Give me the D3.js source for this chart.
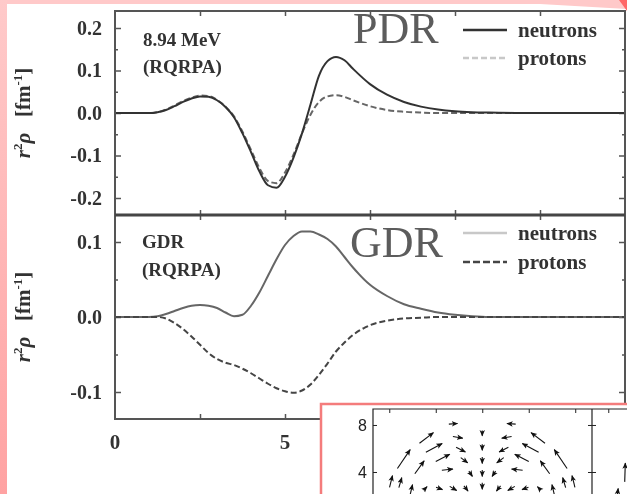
<!DOCTYPE html>
<html>
<head>
<meta charset="utf-8">
<script src="https://cdn.jsdelivr.net/npm/d3@7"></script>
<style>
  body { margin: 0; background: #fff; }
  svg { display: block; }
</style>
</head>
<body>
<svg width="627" height="494"></svg>
<script>
// radius grid shared by both panels (fm)
const radius = [0, 0.5, 1, 1.25, 1.5, 1.75, 2, 2.25, 2.5, 2.75, 3, 3.25, 3.5, 3.75, 4, 4.25, 4.5, 4.75,
  5, 5.25, 5.5, 5.75, 6, 6.25, 6.5, 6.75, 7, 7.5, 8, 8.5, 9, 9.5, 10, 10.5, 11, 12, 13, 14, 15];

// PDR, 8.94 MeV
const pdrNeutrons = [0, 0, 0, 0.002, 0.007, 0.016, 0.026, 0.034, 0.039, 0.038, 0.03, 0.014, -0.01, -0.048,
  -0.092, -0.138, -0.17, -0.176, -0.15, -0.105, -0.048, 0.02, 0.088, 0.122, 0.132, 0.124, 0.104, 0.068,
  0.043, 0.026, 0.015, 0.008, 0.004, 0.002, 0.001, 0, 0, 0, 0];
const pdrProtons = [0, 0, 0, 0.002, 0.008, 0.018, 0.028, 0.036, 0.041, 0.04, 0.031, 0.015, -0.008, -0.044,
  -0.087, -0.13, -0.16, -0.165, -0.14, -0.098, -0.048, -0.004, 0.026, 0.039, 0.042, 0.038, 0.03, 0.016,
  0.007, 0.003, 0.001, 0, 0, 0, 0, 0, 0, 0, 0];

// GDR
const gdrNeutrons = [0, 0, 0, 0.001, 0.004, 0.008, 0.012, 0.015, 0.016, 0.015, 0.012, 0.006, 0.001, 0.003,
  0.015, 0.033, 0.055, 0.077, 0.096, 0.108, 0.114, 0.114, 0.11, 0.104, 0.094, 0.08, 0.066, 0.043,
  0.028, 0.017, 0.011, 0.006, 0.003, 0.001, 0, 0, 0, 0, 0];
const gdrProtons = [0, 0, 0, 0, -0.002, -0.008, -0.016, -0.026, -0.037, -0.048, -0.056, -0.061, -0.064, -0.069,
  -0.075, -0.082, -0.089, -0.095, -0.099, -0.101, -0.098, -0.09, -0.077, -0.062, -0.046, -0.034, -0.024, -0.011,
  -0.005, -0.002, -0.001, 0, 0, 0, 0, 0, 0, 0, 0];

// ticks
const topTicks = [-0.2, -0.1, 0, 0.1, 0.2];
const topMinor = [-0.15, -0.05, 0.05, 0.15];
const botTicks = [-0.1, 0, 0.1];
const botMinor = [-0.05, 0.05];
const xTicks = [0, 5, 10];
const xTicksAll = [2.5, 5, 7.5, 10, 12.5];

// velocity field inset: arrow centre (x, y) and vector (u, v), fm
const fieldX = [0, 0, 0, 0, 0, -2.5, 2.5, -2.1, 2.1, -4.8, 4.8, -1.85, 1.85, -4.15, 4.15, -6.75, 6.75,
  -1.55, 1.55, -3.4, 3.4, -3.0, 3.0, -1.0, 1.0, -5.4, 5.4, -7.85, 7.85, -7.05, 7.05,
  -6.1, 6.1, -4.9, 4.9, -3.7, 3.7, -2.5, 2.5, -1.4, 1.4];
const fieldY = [7.3, 6.1, 5.0, 3.9, 2.8, 8.1, 8.1, 6.95, 6.95, 6.9, 6.9, 5.9, 5.9, 6.05, 6.05, 5.1, 5.1,
  5.0, 5.0, 5.2, 5.2, 4.2, 4.2, 3.85, 3.85, 4.4, 4.4, 3.2, 3.2, 3.1, 3.1,
  2.5, 2.5, 2.6, 2.6, 2.6, 2.6, 2.6, 2.6, 2.6, 2.6];
const fieldU = [0, 0, 0, 0, 0, 0.75, -0.75, 0.85, -0.85, 1.2, -1.2, 0.8, -0.8, 1.4, -1.4, 1.1, -1.1,
  0.6, -0.6, 1.2, -1.2, 0.95, -0.95, 0.3, -0.3, 0.8, -0.8, 0.25, -0.25, 0.25, -0.25,
  0.2, -0.2, 0.3, -0.3, 0.55, -0.55, 0.6, -0.6, 0.35, -0.35];
const fieldV = [-0.45, -0.5, -0.55, -0.55, -0.55, 0.05, 0.05, -0.15, -0.15, 0.9, 0.9, -0.4, -0.4, 0.75, 0.75, 1.6, 1.6,
  -0.45, -0.45, 0.6, 0.6, 0.1, 0.1, -0.45, -0.45, 1.1, 1.1, 1.0, 1.0, 0.85, 0.85,
  0.85, 0.85, 0.3, 0.3, -0.2, -0.2, -0.35, -0.35, -0.45, -0.45];
// second inset panel (only its left edge is visible)
const field2X = [-6.56, -7.2];
const field2Y = [3.96, 2.2];
const field2U = [0.05, 0.1];
const field2V = [1.6, 0.8];
const insetYTicks = [4, 8];
const insetXTicks = [-8, -4, 0, 4, 8];

const svg = d3.select('svg');
const defs = svg.append('defs');

defs.append('filter').attr('id', 'scan')
  .append('feGaussianBlur').attr('stdDeviation', 0.6);

const edge = defs.append('linearGradient').attr('id', 'edge')
  .attr('x1', 0).attr('y1', 0).attr('x2', 0).attr('y2', 1);
edge.append('stop').attr('offset', 0).attr('stop-color', '#ffcaca');
edge.append('stop').attr('offset', 1).attr('stop-color', '#ffa2a2');

defs.append('marker').attr('id', 'head')
  .attr('viewBox', '0 0 10 10').attr('refX', 9).attr('refY', 5)
  .attr('markerWidth', 6.5).attr('markerHeight', 6.5)
  .attr('markerUnits', 'userSpaceOnUse').attr('orient', 'auto')
  .append('path').attr('d', 'M0,0.8L10,5L0,9.2L2.5,5z').attr('fill', '#111');

// pink paper behind the scan
svg.append('rect').attr('width', 627).attr('height', 494).attr('fill', '#ffc9c9');
svg.append('rect').attr('width', 7).attr('height', 494).attr('fill', 'url(#edge)');
svg.append('polygon').attr('points', '7,4 540,4 627,9 627,494 7,494').attr('fill', '#fff');
svg.append('polygon').attr('points', '619,0 627,0 627,11').attr('fill', '#ff6868');

// scales
const x = d3.scaleLinear().domain([0, 15]).range([115, 625]);
const yTop = d3.scaleLinear().domain([-0.24, 0.24]).range([215, 11]);
const yBot = d3.scaleLinear().domain([-0.136, 0.136]).range([419, 215]);

const chart = svg.append('g').attr('filter', 'url(#scan)');

function ticks(g, axis) {
  g.call(axis);
  g.select('.domain').remove();
  g.selectAll('.tick line').attr('stroke', '#555').attr('stroke-width', 1.5);
  g.attr('font-family', 'Liberation Serif').attr('font-size', 20).attr('font-weight', 'bold');
  g.selectAll('.tick text').attr('fill', '#333');
}

function panel(y, major, minor, series, styles) {
  const [y0, y1] = y.range();
  ticks(chart.append('g').attr('transform', 'translate(115,0)'),
    d3.axisLeft(y).tickValues(major).tickSize(-6).tickPadding(13).tickFormat(d => d.toFixed(1)));
  ticks(chart.append('g').attr('transform', 'translate(115,0)'),
    d3.axisLeft(y).tickValues(minor).tickSize(-3).tickFormat(''));
  ticks(chart.append('g').attr('transform', 'translate(625,0)'),
    d3.axisRight(y).tickValues(major).tickSize(-6).tickFormat(''));
  ticks(chart.append('g').attr('transform', 'translate(625,0)'),
    d3.axisRight(y).tickValues(minor).tickSize(-3).tickFormat(''));
  ticks(chart.append('g').attr('transform', `translate(0,${y1})`),
    d3.axisTop(x).tickValues(xTicksAll).tickSize(-5).tickFormat(''));
  ticks(chart.append('g').attr('transform', `translate(0,${y0})`),
    d3.axisBottom(x).tickValues(xTicksAll).tickSize(-5).tickFormat(''));

  const line = d3.line().x(d => x(d[0])).y(d => y(d[1])).curve(d3.curveMonotoneX);
  series.forEach((s, i) => {
    chart.append('path')
      .attr('d', line(d3.zip(radius, s)))
      .attr('fill', 'none')
      .attr('stroke', styles[i].color)
      .attr('stroke-width', 2)
      .attr('stroke-dasharray', styles[i].dash);
  });

  chart.append('rect')
    .attr('x', 115).attr('y', y1).attr('width', 510).attr('height', y0 - y1)
    .attr('fill', 'none').attr('stroke', '#555').attr('stroke-width', 2);
}

panel(yTop, topTicks, topMinor, [pdrProtons, pdrNeutrons],
  [{ color: '#666', dash: '6,3' }, { color: '#333', dash: null }]);
panel(yBot, botTicks, botMinor, [gdrNeutrons, gdrProtons],
  [{ color: '#666', dash: null }, { color: '#444', dash: '6,3' }]);

chart.append('line').attr('x1', 115).attr('x2', 625).attr('y1', 215).attr('y2', 215)
  .attr('stroke', '#444').attr('stroke-width', 3);

// x tick labels
chart.append('g').selectAll('text').data(xTicks).join('text')
  .attr('x', d => x(d)).attr('y', 449)
  .attr('text-anchor', 'middle')
  .attr('font-family', 'Liberation Serif').attr('font-size', 21).attr('font-weight', 'bold')
  .attr('fill', '#333').text(d => d);

// y axis titles
[[yTop, 0], [yBot, 0]].forEach(([y, v]) => {
  const t = chart.append('text')
    .attr('transform', `translate(30,${y(v)}) rotate(-90)`)
    .attr('text-anchor', 'middle')
    .attr('font-family', 'Liberation Serif').attr('font-size', 21).attr('font-weight', 'bold')
    .attr('fill', '#333');
  t.append('tspan').attr('font-style', 'italic').text('r');
  t.append('tspan').attr('font-size', 13).attr('dy', -8).text('2');
  t.append('tspan').attr('font-style', 'italic').attr('dy', 8).text('\u03c1');
  t.append('tspan').text('\u2002 [fm');
  t.append('tspan').attr('font-size', 13).attr('dy', -8).text('-1');
  t.append('tspan').attr('dy', 8).text(']');
});

// panel notes
const notes = [['8.94 MeV', 143, 46], ['(RQRPA)', 143, 73], ['GDR', 142, 248], ['(RQRPA)', 142, 276]];
chart.append('g').selectAll('text').data(notes).join('text')
  .attr('x', d => d[1]).attr('y', d => d[2])
  .attr('font-family', 'Liberation Serif').attr('font-size', 19).attr('font-weight', 'bold')
  .attr('fill', '#333').text(d => d[0]);

// legends
const legends = [
  { label: 'neutrons', y: 30, color: '#333', dash: null },
  { label: 'protons', y: 58, color: '#c8c8c8', dash: '6,3' },
  { label: 'neutrons', y: 233, color: '#c8c8c8', dash: null },
  { label: 'protons', y: 262, color: '#444', dash: '7,3' }
];
const leg = chart.append('g').selectAll('g').data(legends).join('g');
leg.append('line')
  .attr('x1', 463).attr('x2', 507).attr('y1', d => d.y).attr('y2', d => d.y)
  .attr('stroke', d => d.color).attr('stroke-width', 2.5).attr('stroke-dasharray', d => d.dash);
leg.append('text')
  .attr('x', 518).attr('y', d => d.y + 7)
  .attr('font-family', 'Liberation Serif').attr('font-size', 21).attr('font-weight', 'bold')
  .attr('fill', '#333').text(d => d.label);

// large panel names
svg.append('g').selectAll('text').data([['PDR', 353, 43], ['GDR', 350, 257]]).join('text')
  .attr('x', d => d[1]).attr('y', d => d[2])
  .attr('font-family', 'Liberation Serif').attr('font-size', 44)
  .attr('fill', '#5c5c5c').text(d => d[0]);

// inset: velocity field
const inset = svg.append('g');
inset.append('rect').attr('x', 321).attr('y', 404).attr('width', 320).attr('height', 100)
  .attr('fill', '#fff').attr('stroke', '#f47c7c').attr('stroke-width', 2.5);

const xi = d3.scaleLinear().domain([-9.4, 9.4]).range([373, 591.5]);
const xi2 = d3.scaleLinear().domain([-9.4, 9.4]).range([592, 810.5]);
const yi = d3.scaleLinear().domain([0, 9.36]).range([519, 409]);

function styleInsetAxis(g, axis) {
  g.call(axis);
  g.select('.domain').remove();
  g.selectAll('.tick line').attr('stroke', '#222');
  g.attr('font-family', 'Liberation Sans').attr('font-size', 16);
  g.selectAll('.tick text').attr('fill', '#222');
}
styleInsetAxis(inset.append('g').attr('transform', 'translate(373,0)'),
  d3.axisLeft(yi).tickValues(insetYTicks).tickSize(-4).tickPadding(6));
styleInsetAxis(inset.append('g').attr('transform', 'translate(592,0)'),
  d3.axisRight(yi).tickValues(insetYTicks).tickSize(-4).tickFormat(''));
styleInsetAxis(inset.append('g').attr('transform', 'translate(592,0)'),
  d3.axisRight(yi).tickValues(insetYTicks).tickSize(4).tickFormat(''));
styleInsetAxis(inset.append('g').attr('transform', 'translate(0,409)'),
  d3.axisTop(xi).tickValues(insetXTicks).tickSize(-4).tickFormat(''));
styleInsetAxis(inset.append('g').attr('transform', 'translate(0,409)'),
  d3.axisTop(xi2).tickValues(insetXTicks).tickSize(-4).tickFormat(''));

inset.append('path')
  .attr('d', 'M373,500V409H640M592,409V500')
  .attr('fill', 'none').attr('stroke', '#222').attr('stroke-width', 1.2);

function arrows(sx, xs, ys, us, vs) {
  inset.append('g').selectAll('line').data(d3.range(xs.length)).join('line')
    .attr('x1', i => sx(xs[i] - us[i] / 2)).attr('y1', i => yi(ys[i] - vs[i] / 2))
    .attr('x2', i => sx(xs[i] + us[i] / 2)).attr('y2', i => yi(ys[i] + vs[i] / 2))
    .attr('stroke', '#111').attr('stroke-width', 1.1)
    .attr('marker-end', 'url(#head)');
}
arrows(xi, fieldX, fieldY, fieldU, fieldV);
arrows(xi2, field2X, field2Y, field2U, field2V);
</script>
</body>
</html>
